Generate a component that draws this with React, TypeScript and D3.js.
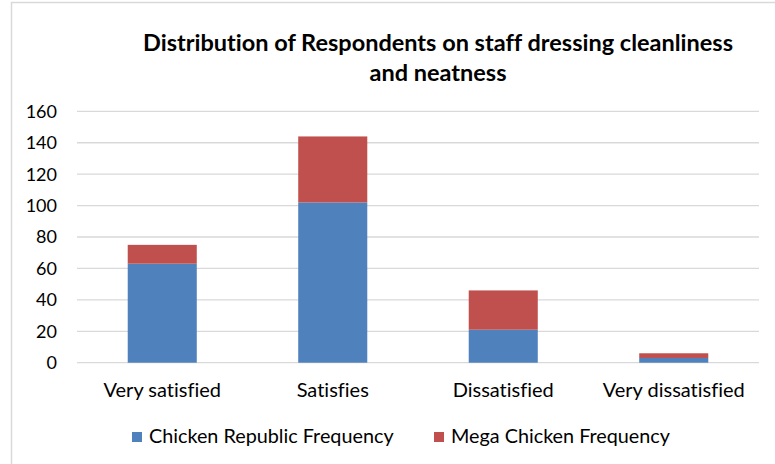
import React from "react";
import * as d3 from "d3";

const categories = ["Very satisfied", "Satisfies", "Dissatisfied", "Very dissatisfied"];
const chickenRepublic = [63, 102, 21, 3];
const megaChicken = [12, 42, 25, 3];
const seriesNames = ["Chicken Republic Frequency", "Mega Chicken Frequency"];
const seriesColors = ["#4F81BD", "#C0504D"];
const yTicks = [0, 20, 40, 60, 80, 100, 120, 140, 160];
const titleLines = ["Distribution of Respondents on staff dressing cleanliness", "and neatness"];

export default function App() {
  const W = 775, H = 464;
  const left = 77, right = 759, top = 111.3, bottom = 362.7;
  const x = d3.scaleBand<string>().domain(categories).range([left, right]).paddingInner(0.595).paddingOuter(0.2975);
  const y = d3.scaleLinear().domain([0, 160]).range([bottom, top]);
  const rows = categories.map((c, i) => ({ cat: c, cr: chickenRepublic[i], mc: megaChicken[i] }));
  const stack = d3.stack<any>().keys(["cr", "mc"])(rows);
  const font = "Lato, 'Open Sans', sans-serif";
  return (
    <svg width={W} height={H} style={{ position: "absolute", left: 0, top: 0, background: "#fff", fontVariantLigatures: "none" }} fontFamily={font}>
      <rect x={11.5} y={2.5} width={900} height={600} fill="none" stroke="#D9D9D9" strokeWidth={1.5} />
      {titleLines.map((t, i) => (
        <text key={i} x={438} y={51 + i * 30} textAnchor="middle" fontWeight="bold" fontSize={23.5} fill="#000">{t}</text>
      ))}
      {yTicks.map((t) => (
        <g key={t}>
          <line x1={left} x2={right} y1={y(t)} y2={y(t)} stroke="#D9D9D9" strokeWidth={1.3} />
          <text x={57} y={y(t)} dy="0.36em" textAnchor="end" fontSize={18} fill="#000">{t}</text>
        </g>
      ))}
      {stack.map((s, si) => (
        <g key={si}>
          {s.map((d, i) => (
            <rect key={i} x={x(categories[i])} width={x.bandwidth()} y={y(d[1])} height={y(d[0]) - y(d[1])} fill={seriesColors[si]} />
          ))}
        </g>
      ))}
      {categories.map((c) => (
        <text key={c} x={(x(c) as number) + x.bandwidth() / 2} y={397} textAnchor="middle" fontSize={20} fill="#000">{c}</text>
      ))}
      {seriesNames.map((n, i) => {
        const lx = [132, 434][i];
        return (
          <g key={n}>
            <rect x={lx} y={432} width={10} height={10} fill={seriesColors[i]} />
            <text x={lx + 17} y={443} fontSize={19.8} fill="#000">{n}</text>
          </g>
        );
      })}
    </svg>
  );
}
